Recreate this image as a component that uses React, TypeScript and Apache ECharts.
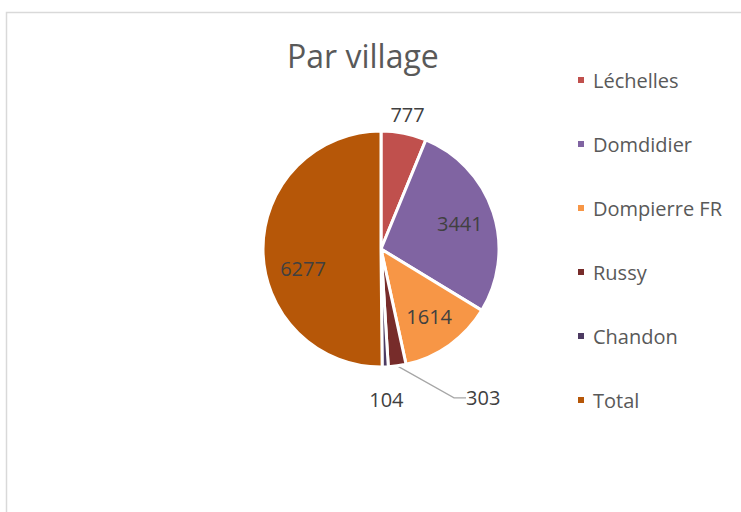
import React, { useEffect, useRef } from "react";
import * as echarts from "echarts";

const categories = ["Léchelles", "Domdidier", "Dompierre FR", "Russy", "Chandon", "Total"];
const values = [777, 3441, 1614, 303, 104, 6277];
const palette = ["#c0504d", "#8064a2", "#f79646", "#772c2a", "#4d3b62", "#b65708"];
const titleText = "Par village";

const FONT = "'Open Sans', 'Noto Sans', sans-serif";

export default function App() {
  const ref = useRef<HTMLDivElement>(null);
  useEffect(() => {
    if (!ref.current) return;
    const chart = echarts.init(ref.current, undefined, { renderer: "svg" });
    const center = [381, 249];
    const R = 118;
    const insideSet = ["Domdidier", "Dompierre FR", "Total"];
    const labelStyle = { color: "#404040", fontSize: 20, fontFamily: FONT };

    const mainData = categories.map((name, i) => ({
      name,
      value: values[i],
      itemStyle: { color: palette[i] },
      label:
        name === "Russy"
          ? { show: true, position: "outside", ...labelStyle, formatter: "{c}", distanceToLabelLine: 4 }
          : { show: false },
      labelLine: name === "Russy" ? { show: true, length: 6, length2: 12, lineStyle: { color: "#a6a6a6", width: 1.2 } } : { show: false },
    }));

    const overlay = (radius: number, shown: string[], layout?: any) => ({
      type: "pie",
      silent: true,
      legendHoverLink: false,
      center,
      radius: [0, radius],
      startAngle: 90,
      clockwise: true,
      avoidLabelOverlap: false,
      itemStyle: { color: "transparent", borderWidth: 0 },
      labelLine: { show: false },
      labelLayout: layout,
      data: categories.map((name, i) => ({
        name,
        value: values[i],
        label: shown.includes(name)
          ? { show: true, position: "inside", ...labelStyle, formatter: "{c}" }
          : { show: false },
      })),
      z: 5,
    });

    chart.setOption({
      animation: false,
      backgroundColor: "#ffffff",
      title: {
        text: titleText,
        left: 282,
        top: 34,
        textStyle: { color: "#595959", fontSize: 32, fontWeight: "normal", fontFamily: FONT },
      },
      legend: {
        orient: "vertical",
        left: 571,
        top: 63,
        itemWidth: 8,
        itemHeight: 8,
        itemGap: 40,
        icon: "rect",
        data: categories,
        selectedMode: false,
        textStyle: { color: "#595959", fontSize: 20, fontFamily: FONT, padding: [0, 0, 0, 3], lineHeight: 24 },
      },
      graphic: [
        {
          type: "rect",
          shape: { x: 6.5, y: 12.5, width: 900, height: 700 },
          style: { fill: "none", stroke: "#d9d9d9", lineWidth: 1.5 },
          silent: true,
          z: -10,
        },
      ],
      series: [
        {
          type: "pie",
          center,
          radius: [0, R],
          startAngle: 90,
          clockwise: true,
          avoidLabelOverlap: false,
          itemStyle: { borderColor: "#ffffff", borderWidth: 3 },
          emphasis: { disabled: true },
          labelLayout: (p: any) =>
            p.dataIndex === 3
              ? { x: p.labelRect.x + 52, y: p.labelRect.y + p.labelRect.height / 2 + 26 }
              : {},
          data: mainData,
        },
        overlay(160, insideSet, (p: any) => (p.dataIndex === 5 ? { dx: 5, dy: 19 } : {})),
        overlay(268, ["Léchelles"]),
        overlay(296, ["Chandon"]),
      ],
    });
    return () => chart.dispose();
  }, []);
  return <div ref={ref} style={{ position: "fixed", left: 0, top: 0, width: 741, height: 512 }} />;
}
